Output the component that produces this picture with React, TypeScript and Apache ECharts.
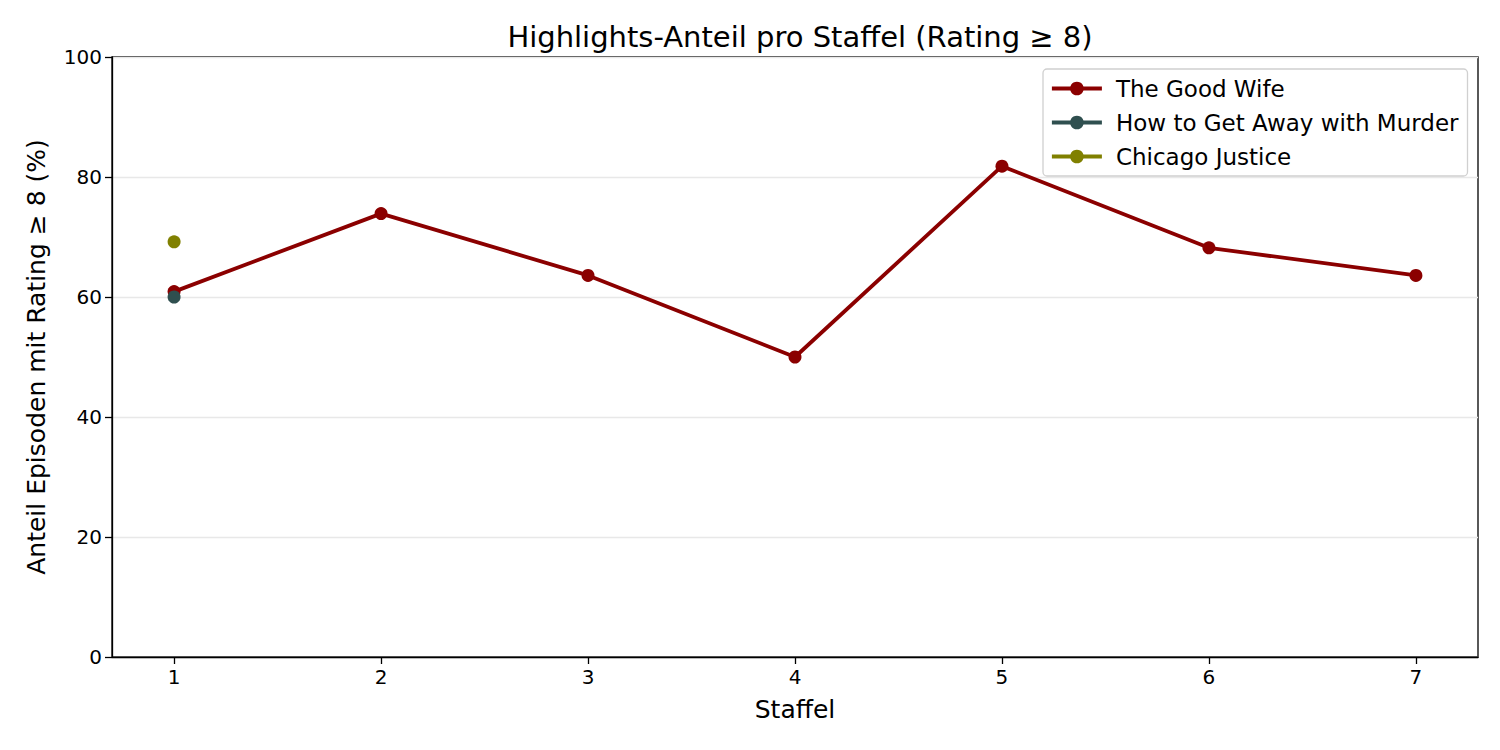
import { useEffect, useRef } from 'react'
import * as echarts from 'echarts'

const seasons = [1, 2, 3, 4, 5, 6, 7]
const goodWife = [60.9, 73.9, 63.6, 50.0, 81.8, 68.2, 63.6]
const htgawm = [60.0]
const chicagoJustice = [69.2]
const yTicks = [0, 20, 40, 60, 80, 100]

const FONT = 'DejaVu Sans'

const toPoints = (vals: number[]) => vals.map((v, i) => [seasons[i], v])

export default function App() {
  const ref = useRef<HTMLDivElement | null>(null)

  useEffect(() => {
    if (!ref.current) return
    const chart = echarts.init(ref.current, null, { renderer: 'svg' })

    const lineSeries = (name: string, color: string, data: number[]) => ({
      name,
      type: 'line',
      data: toPoints(data),
      symbol: 'circle',
      symbolSize: 13,
      showSymbol: true,
      lineStyle: { color, width: 3.8 },
      itemStyle: { color },
    })

    chart.setOption({
      animation: false,
      backgroundColor: '#fff',
      textStyle: { fontFamily: FONT },
      title: {
        text: 'Highlights-Anteil pro Staffel (Rating ≥ 8)',
        left: 795,
        top: 17,
        textAlign: 'center',
        textStyle: { fontFamily: FONT, fontSize: 29, fontWeight: 'normal', color: '#000' },
      },
      grid: {
        left: 112, right: 22, top: 57, bottom: 93,
        show: true, borderColor: '#000', borderWidth: 1.3, backgroundColor: 'transparent',
      },
      legend: {
        orient: 'vertical',
        left: 1043,
        top: 69,
        padding: [8, 9, 8, 7],
        itemGap: 11,
        itemWidth: 50,
        itemHeight: 17,
        borderColor: '#d0d0d0',
        borderWidth: 1.3,
        borderRadius: 4,
        backgroundColor: 'rgba(255,255,255,0.8)',
        lineStyle: { width: 3.8 },
        textStyle: { fontFamily: FONT, fontSize: 23, color: '#000', padding: [0, 0, 0, 9] },
        data: ['The Good Wife', 'How to Get Away with Murder', 'Chicago Justice'],
      },
      xAxis: {
        type: 'value',
        min: 0.7,
        max: 7.3,
        name: 'Staffel',
        nameLocation: 'middle',
        nameGap: 40,
        nameTextStyle: { fontFamily: FONT, fontSize: 25, color: '#000' },
        axisLine: { show: true, lineStyle: { color: '#000', width: 1.3 } },
        axisTick: { show: true, customValues: seasons, length: 7, lineStyle: { color: '#000', width: 1.3 } },
        axisLabel: { customValues: seasons, fontFamily: FONT, fontSize: 20, color: '#000', margin: 10 },
        splitLine: { show: false },
      },
      yAxis: {
        type: 'value',
        min: 0,
        max: 100,
        interval: 20,
        name: 'Anteil Episoden mit Rating ≥ 8 (%)',
        nameLocation: 'middle',
        nameGap: 63,
        nameTextStyle: { fontFamily: FONT, fontSize: 25, color: '#000' },
        axisLine: { show: true, lineStyle: { color: '#000', width: 1.3 } },
        axisTick: { show: true, length: 7, lineStyle: { color: '#000', width: 1.3 } },
        axisLabel: {
          fontFamily: FONT, fontSize: 20, color: '#000', margin: 10,
          formatter: (v: number) => (yTicks.includes(v) ? String(v) : ''),
        },
        splitLine: { show: true, lineStyle: { color: '#e8e8e8', width: 1.3 } },
      },
      series: [
        lineSeries('The Good Wife', '#8b0000', goodWife),
        lineSeries('How to Get Away with Murder', '#2f4f4f', htgawm),
        lineSeries('Chicago Justice', '#808000', chicagoJustice),
      ],
    })

    return () => chart.dispose()
  }, [])

  return (
    <div
      ref={ref}
      style={{ position: 'fixed', left: 0, top: 0, width: 1500, height: 750, background: '#fff' }}
    />
  )
}
